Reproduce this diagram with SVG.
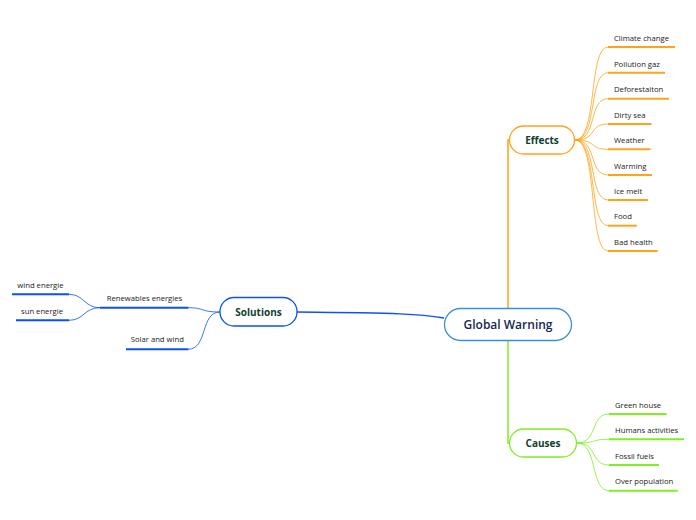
<svg xmlns="http://www.w3.org/2000/svg" width="696" height="520" viewBox="0 0 696 520">
<style>
.lbl{font-family:"Open Sans","Liberation Sans",sans-serif;font-size:7.7px;fill:#222;}
.main{font-family:"Open Sans","Liberation Sans",sans-serif;font-size:10px;font-weight:700;fill:#12402f;text-anchor:middle;}
.root{font-family:"Open Sans","Liberation Sans",sans-serif;font-size:12px;font-weight:600;fill:#152850;text-anchor:middle;}
.o{stroke:#ffa31a;fill:none;}
.g{stroke:#80ee22;fill:none;}
.b{stroke:#0a52f5;fill:none;}
.thin{stroke-width:0.8;}
.ul{stroke-width:2;}
</style>
<rect width="696" height="520" fill="#fff"/>
<g id="connectors">
  <path class="o" stroke-width="1.5" d="M508,308 V140 H510"/>
  <path class="g" stroke-width="1.5" d="M508,340 V443 H510"/>
  <path class="b" stroke-width="1.5" d="M444,318 C420,314 400,313 297,312"/>
  <g class="o thin">
    <path d="M575,140 C598,140 588,47 608,47"/>
    <path d="M575,140 C598,140 588,72.7 608,72.7"/>
    <path d="M575,140 C598,140 588,98.7 608,98.7"/>
    <path d="M575,140 C598,140 588,124 608,124"/>
    <path d="M575,140 C598,140 588,149.3 608,149.3"/>
    <path d="M575,140 C598,140 588,175 608,175"/>
    <path d="M575,140 C598,140 588,200 608,200"/>
    <path d="M575,140 C598,140 588,225.7 608,225.7"/>
    <path d="M575,140 C598,140 588,251 608,251"/>
  </g>
  <g class="g thin">
    <path d="M577,443 C598,443 590,414 609,414"/>
    <path d="M577,443 C598,443 590,439.3 609,439.3"/>
    <path d="M577,443 C598,443 590,465 609,465"/>
    <path d="M577,443 C598,443 590,490.7 609,490.7"/>
  </g>
  <g class="b thin">
    <path d="M220,312 C200,312 205,307.7 188,307.7"/>
    <path d="M220,312 C200,312 208,349.3 188,349.3"/>
    <path d="M100,307.7 C84,307.7 84,294.3 69,294.3"/>
    <path d="M100,307.7 C84,307.7 84,320.3 69,320.3"/>
  </g>
</g>
<g id="root">
  <rect x="444.5" y="308.5" width="127" height="32" rx="16" fill="#fff" stroke="#3b8fd4" stroke-width="1.3"/>
  <text class="root" x="508" y="328.5">Global Warning</text>
</g>
<g id="effects">
  <rect x="509.5" y="126" width="65" height="28" rx="14" fill="#fff" stroke="#ffa31a" stroke-width="1.3"/>
  <text class="main" x="542" y="143.5">Effects</text>
</g>
<g id="causes">
  <rect x="509.5" y="429" width="67" height="28" rx="14" fill="#fff" stroke="#80ee22" stroke-width="1.3"/>
  <text class="main" x="543" y="446.8">Causes</text>
</g>
<g id="solutions">
  <rect x="220" y="297.5" width="77" height="28.5" rx="14" fill="#fff" stroke="#0a52f5" stroke-width="1.3"/>
  <text class="main" x="258.5" y="315.8">Solutions</text>
</g>
<g id="e1"><path class="o ul" d="M608,47 H675"/><text class="lbl" x="614" y="41">Climate change</text></g>
<g id="e2"><path class="o ul" d="M608,72.7 H665"/><text class="lbl" x="614" y="66.5">Pollution gaz</text></g>
<g id="e3"><path class="o ul" d="M608,98.7 H669"/><text class="lbl" x="614" y="92.3">Deforestaiton</text></g>
<g id="e4"><path class="o ul" d="M608,124 H651.5"/><text class="lbl" x="614" y="117.5">Dirty sea</text></g>
<g id="e5"><path class="o ul" d="M608,149.3 H650.5"/><text class="lbl" x="614" y="143">Weather</text></g>
<g id="e6"><path class="o ul" d="M608,175 H652"/><text class="lbl" x="614" y="168.5">Warming</text></g>
<g id="e7"><path class="o ul" d="M608,200 H648"/><text class="lbl" x="614" y="194">Ice melt</text></g>
<g id="e8"><path class="o ul" d="M608,225.7 H636.7"/><text class="lbl" x="614" y="219">Food</text></g>
<g id="e9"><path class="o ul" d="M608,251 H657.7"/><text class="lbl" x="614" y="244.5">Bad health</text></g>
<g id="c1"><path class="g ul" d="M609,414 H666.7"/><text class="lbl" x="615" y="407.5">Green house</text></g>
<g id="c2"><path class="g ul" d="M609,439.3 H684"/><text class="lbl" x="615" y="433">Humans activities</text></g>
<g id="c3"><path class="g ul" d="M609,465 H659"/><text class="lbl" x="615" y="458.5">Fossil fuels</text></g>
<g id="c4"><path class="g ul" d="M609,490.7 H677.7"/><text class="lbl" x="615" y="484">Over population</text></g>
<g id="s1"><path class="b ul" d="M100,307.7 H188.3"/><text class="lbl" x="106.7" y="301">Renewables energies</text></g>
<g id="s2"><path class="b ul" d="M12,294.3 H69"/><text class="lbl" x="17.3" y="288">wind energie</text></g>
<g id="s3"><path class="b ul" d="M16,320.3 H69"/><text class="lbl" x="21" y="314">sun energie</text></g>
<g id="s4"><path class="b ul" d="M126,349.3 H188.3"/><text class="lbl" x="130.7" y="342">Solar and wind</text></g>
</svg>
